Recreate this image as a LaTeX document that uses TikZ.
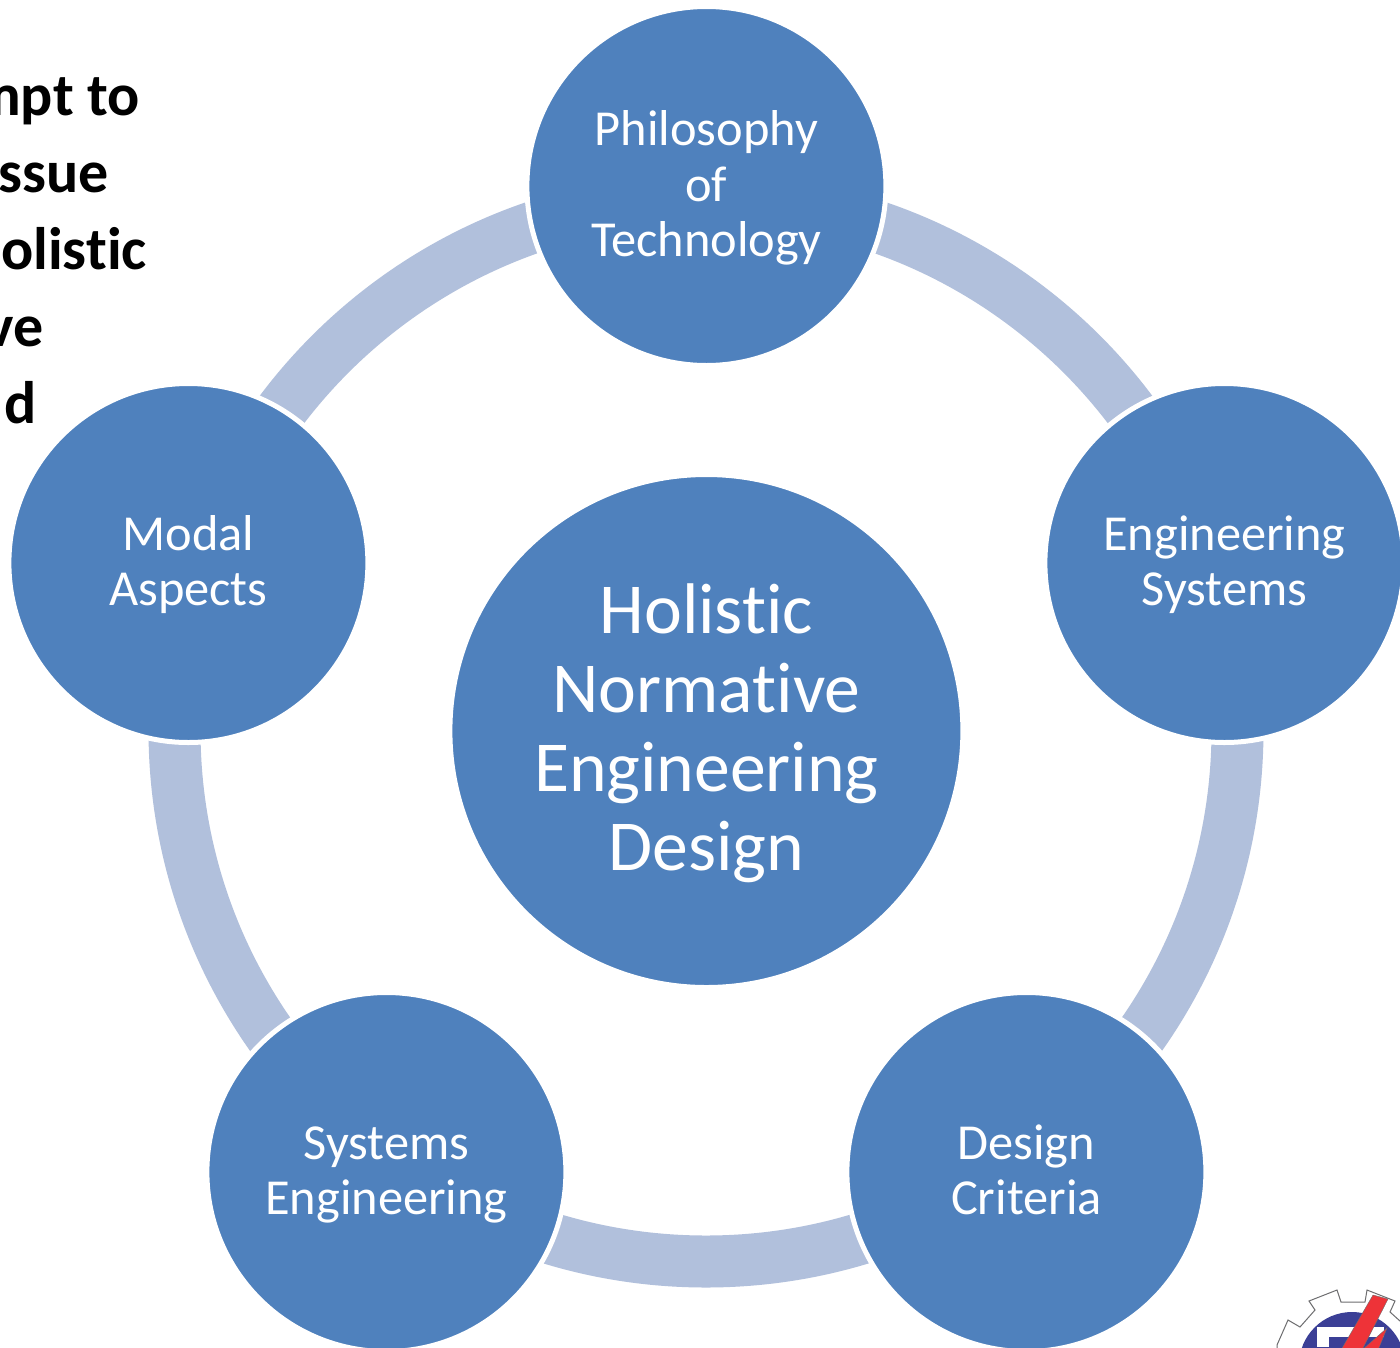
\documentclass[tikz,border=0pt]{standalone}
\usepackage{fontspec}
\setmainfont[Ligatures=NoCommon]{Carlito}
\definecolor{nodeblue}{HTML}{4F81BD}
\definecolor{bandblue}{HTML}{B1C0DC}
\definecolor{logoblue}{HTML}{3B3F96}
\definecolor{logored}{HTML}{EE3338}
\definecolor{logogray}{HTML}{6E6E70}
\newcommand{\satfirst}{\rule{0pt}{41pt}}
\newcommand{\satlast}{\rule[-11pt]{0pt}{11pt}}
\newcommand{\hubfirst}{\rule{0pt}{56.5pt}}
\newcommand{\hublast}{\rule[-15pt]{0pt}{15pt}}
\tikzset{
  sat/.style={circle,fill=nodeblue,draw=white,line width=5pt,minimum size=359pt,inner sep=0pt,text=white,align=center,font=\fontsize{50.4}{55.7}\selectfont},
  hubnode/.style={circle,fill=nodeblue,draw=white,line width=5pt,minimum size=513pt,inner sep=0pt,text=white,align=center,font=\fontsize{71.7}{79}\selectfont},
  ring/.style={draw=bandblue,line width=52pt},
  sidetext/.style={anchor=base east,inner sep=0pt,font=\fontsize{60}{64}\selectfont\bfseries,text=black}
}
\begin{document}
\begin{tikzpicture}[x=1pt,y=-1pt]
\useasboundingbox (0,0) rectangle (1400,1347);
\fill[white] (0,0) rectangle (1400,1347);
% side text, cropped by the page edge
\node[sidetext] (t1) at (140,115.5) {mpt to};
\node[sidetext] (t2) at (109,192.5) {ssue};
\node[sidetext] (t3) at (147,269.5) {olistic};
\node[sidetext] (t4) at (44,346) {ve};
\node[sidetext] (t5) at (37,423) {d};
% ring
\coordinate (ringc) at (706,730);
\draw[ring] (ringc) circle[radius=531.5];
% nodes
\node[hubnode] (hub) at (706.4,731) {\hubfirst Holistic\\Normative\\Engineering\\Design\hublast};
\node[sat] (a) at (706.4,186) {\satfirst Philosophy\\of\\Technology\satlast};
\node[sat] (b) at (1224.4,563) {\satfirst Engineering\\Systems\satlast};
\node[sat] (c) at (1026.4,1172) {\satfirst Design\\Criteria\satlast};
\node[sat] (d) at (386.4,1172) {\satfirst Systems\\Engineering\satlast};
\node[sat] (e) at (188.4,563) {\satfirst Modal\\Aspects\satlast};
% logo, cropped by the page edge
\begin{scope}
\clip (1250,1270) rectangle (1400,1347);
\fill[white,draw=logogray,line width=1pt]
 (1277,1345) -- (1288,1320) -- (1300,1327) -- (1315,1310) -- (1309,1301) -- (1337,1290)
 -- (1341,1302) -- (1365,1302) -- (1367,1290) -- (1395,1301) -- (1390,1312) -- (1410,1330) -- (1410,1360) -- (1277,1360) -- cycle;
\fill[logoblue] (1352,1365) circle[radius=53];
\fill[white] (1317,1327) rectangle (1384,1347);
\fill[logoblue] (1329,1337) rectangle (1384,1347);
\fill[logored,draw=logogray,line width=.4pt] (1373,1295) -- (1388,1299) -- (1362,1350) -- (1341,1350) -- cycle;
\fill[logored,draw=logogray,line width=.4pt] (1387,1328) -- (1378,1350) -- (1362,1350) -- cycle;
\end{scope}
\end{tikzpicture}
\end{document}
